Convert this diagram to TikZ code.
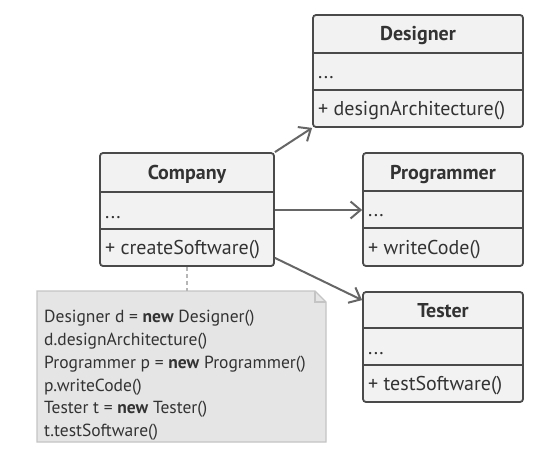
\documentclass[tikz,border=0pt]{standalone}
\usepackage{fontspec}
\setmainfont{PT Sans}
\usetikzlibrary{calc,arrows.meta}
\definecolor{boxline}{HTML}{4A4A4A}
\definecolor{boxfill}{HTML}{F2F2F2}
\definecolor{arrowc}{HTML}{666666}
\definecolor{notefill}{HTML}{E5E5E5}
\definecolor{noteline}{HTML}{C4C4C4}
\definecolor{txt}{HTML}{333333}
\tikzset{
  classbox/.style={draw=boxline, fill=boxfill, line width=1.8pt, rounded corners=3pt, inner sep=0pt},
  sepline/.style={draw=boxline, line width=1.8pt},
  hdr/.style={font=\fontsize{20}{24}\selectfont\bfseries, text=txt, inner sep=0pt, anchor=base},
  mem/.style={font=\fontsize{20}{24}\selectfont, text=txt, inner sep=0pt, anchor=base west},
  assoc/.style={draw=arrowc, line width=2pt, -{Straight Barb[length=10pt,width=17pt,line width=2pt]}},
  notetxt/.style={font=\fontsize{17.5}{22.8}\selectfont, text=txt, align=left, inner sep=0pt, anchor=north west},
}
\begin{document}
\begin{tikzpicture}[x=1pt,y=-1pt]
\useasboundingbox (0,0) rectangle (559,460);
% note
\draw[noteline, line width=1.4pt, fill=notefill] (37,291) -- (315,291) -- (326,302) -- (326,442) -- (37,442) -- cycle;
\draw[noteline, line width=1.4pt] (315,291) -- (315,302) -- (326,302);
\node[notetxt] (notetext) at (44,310) {Designer d = \textbf{new} Designer()\\d.designArchitecture()\\Programmer p = \textbf{new} Programmer()\\p.writeCode()\\Tester t = \textbf{new} Tester()\\t.testSoftware()};
\coordinate (notetop) at (187,291);
% Company
\node[classbox, minimum width=174pt, minimum height=113pt] (company) at (187,209.5) {};
\draw[sepline] (100,192) -- (274,192);
\draw[sepline] (100,229) -- (274,229);
\node[hdr] (companyh) at (187,179.5) {Company};
\node[mem] (companym) at (105,218) {...};
\node[mem] (companyo) at (105,254.5) {+ createSoftware()};
% Designer
\node[classbox, minimum width=210pt, minimum height=112pt] (designer) at (418,71) {};
\draw[sepline] (313,53) -- (523,53);
\draw[sepline] (313,90) -- (523,90);
\node[hdr] (designerh) at (418,41) {Designer};
\node[mem] (designerm) at (318,78) {...};
\node[mem] (designero) at (318,115.5) {+ designArchitecture()};
% Programmer
\node[classbox, minimum width=160pt, minimum height=113pt] (programmer) at (443,209.5) {};
\draw[sepline] (363,191) -- (523,191);
\draw[sepline] (363,228) -- (523,228);
\node[hdr] (programmerh) at (443,179) {Programmer};
\node[mem] (programmerm) at (368,216) {...};
\node[mem] (programmero) at (368,254) {+ writeCode()};
% Tester
\node[classbox, minimum width=160pt, minimum height=110pt] (tester) at (443,347) {};
\draw[sepline] (363,328) -- (523,328);
\draw[sepline] (363,365) -- (523,365);
\node[hdr] (testerh) at (443,317) {Tester};
\node[mem] (testerm) at (368,354) {...};
\node[mem] (testero) at (368,390.5) {+ testSoftware()};
% connectors
\coordinate (progin) at ($(programmer.west)+(0,0.5)$);
\draw[assoc] (company.east |- progin) -- (progin);
\draw[assoc] (company.north east) -- (designer.south west);
\draw[assoc] ($(company.south east)+(0,-9)$) -- ($(tester.north west)+(0,9)$);
\draw[noteline!80!gray, line width=1.2pt, dash pattern=on 4pt off 3pt] (company.south) -- (notetop);
\end{tikzpicture}
\end{document}
